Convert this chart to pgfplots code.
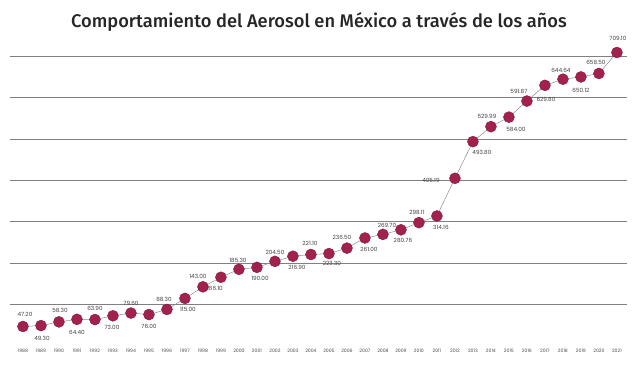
\documentclass[border=0pt]{standalone}
\usepackage{pgfplots}
\pgfplotsset{compat=1.18}
\usepackage{pgfplotstable}
\usepackage{fontspec}
\setmainfont{Poppins}
\newfontfamily\titlefont{Fira Sans Medium}
\definecolor{guinda}{HTML}{A3214D}
\definecolor{guindadark}{HTML}{7A1A38}
\pgfplotstableread{
year val lab dx dy
1988 47.20 47.20 2 12
1989 49.30 49.30 1 -13
1990 58.30 58.30 1 11
1991 64.40 64.40 0 -13
1992 63.90 63.90 0 11
1993 73.00 73.00 -1 -12
1994 79.60 79.60 0 10
1995 76.00 76.00 0 -12
1996 88.30 88.30 -3 10
1997 115.00 115.00 3 -11
1998 143.00 143.00 -5 10
1999 166.10 166.10 -6 -11
2000 185.30 185.30 -1 9
2001 190.00 190.00 3 -11
2002 204.50 204.50 0 9
2003 216.90 216.90 4 -11
2004 221.10 221.10 -1 11
2005 223.30 223.30 3 -10
2006 236.50 236.50 -5 11
2007 261.00 261.00 4 -11
2008 269.70 269.70 4 9
2009 280.76 280.76 2 -11
2010 298.11 298.11 -2 10
2011 314.16 314.16 4 -11
2012 405.19 405.19 -24 -2
2013 493.80 493.80 9 -11
2014 529.99 529.99 -4 10
2015 553.00 584.00 7 -12
2016 591.87 591.87 -8 10
2017 629.80 629.80 1 -14
2018 644.64 644.64 -2 9
2019 650.12 650.12 0 -13
2020 658.50 658.50 -3 11
2021 709.10 709.10 1 14
}\data
\begin{document}
\begin{tikzpicture}
\path[use as bounding box] (0,0) rectangle (639pt,368pt);
\node[font=\titlefont\fontsize{18.3}{21}\selectfont, text=black!85] at (319pt,346pt) {Comportamiento del Aerosol en México a través de los años};
\begin{axis}[
  at={(10pt,22pt)}, anchor=south west,
  scale only axis, width=617pt, height=298pt,
  xmin=1987.28, xmax=2021.56, ymin=0, ymax=720,
  clip=false,
  axis line style={draw=none},
  major tick length=0pt,
  xtick=data,
  ytick={100,200,...,700},
  yticklabels={},
  ymajorgrids,
  grid style={black!50, line width=0.8pt},
  /pgf/number format/assume math mode=true,
  /pgf/number format/1000 sep={},
  xticklabel style={font=\fontsize{4.6}{5}\selectfont, text=black!70, inner sep=1pt, yshift=-2pt},
]
\addplot[
  draw=black!45, line width=0.5pt,
  mark=*, mark size=5.5pt,
  mark options={fill=guinda, draw=guindadark, line width=0.4pt},
  point meta=explicit symbolic,
  nodes near coords,
  visualization depends on={\thisrow{dx}\as\ldx},
  visualization depends on={\thisrow{dy}\as\ldy},
  every node near coord/.append style={anchor=center, xshift=\ldx pt, yshift=\ldy pt,
     font=\fontsize{5.7}{6}\selectfont, text=black!75, inner sep=0pt},
] table[x=year, y=val, meta=lab] {\data};
\end{axis}
\end{tikzpicture}
\end{document}
